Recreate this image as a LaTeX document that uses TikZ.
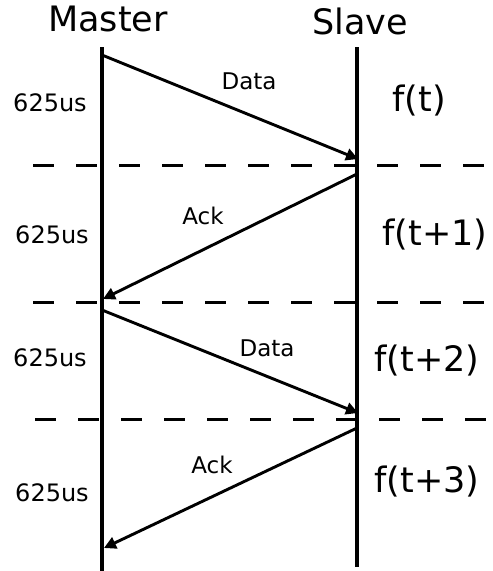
\documentclass[tikz,border=0pt]{standalone}
\usepackage{fontspec}
\setmainfont{DejaVu Sans}
\usepackage{tikz}
\usetikzlibrary{arrows.meta}
\tikzset{
 actor/.style={
 inner sep=0pt,
 font=\fontsize{35}{40}\selectfont
 },
 slot/.style={
 inner sep=0pt,
 font=\fontsize{35}{40}\selectfont
 },
 period/.style={
 inner sep=0pt,
 font=\fontsize{24}{27}\selectfont
 },
 msg/.style={
 inner sep=0pt,
 font=\fontsize{23}{26}\selectfont
 },
 lifeline/.style={line width=3.3pt},
 boundary/.style={line width=3pt, dash pattern=on 21pt off 22pt},
 msgarrow/.style={-{Triangle[length=12pt, width=12pt]}, line width=2.9pt}
}

\begin{document}
\begin{tikzpicture}[x=1pt, y=-1pt]
	\useasboundingbox (0,0) rectangle (493,571);

	\node[actor] (master) at (108,19) {Master};
	\node[actor] (slave) at (360,21) {Slave};

	% lifelines
	\coordinate (mtop) at (102,47);
	\coordinate (mbot) at (102,571);
	\coordinate (stop) at (357,47);
	\coordinate (sbot) at (357,567);
	\draw[lifeline] (mtop) -- (mbot);
	\draw[lifeline] (stop) -- (sbot);

	% slot boundaries
	\coordinate (b1l) at (33,165);
	\coordinate (b1r) at (486,165);
	\coordinate (b2l) at (33,302);
	\coordinate (b2r) at (486,302);
	\coordinate (b3l) at (35,419);
	\coordinate (b3r) at (488,419);
	\draw[boundary] (b1l) -- (b1r);
	\draw[boundary] (b2l) -- (b2r);
	\draw[boundary] (b3l) -- (b3r);

	% message ends
	\coordinate (m1) at (102,55);
	\coordinate (s1) at (358,159);
	\coordinate (s2) at (357,174);
	\coordinate (m2) at (103,299);
	\coordinate (m3) at (102,310);
	\coordinate (s3) at (358,413);
	\coordinate (s4) at (357,428);
	\coordinate (m4) at (104,548);

	\draw[msgarrow] (m1) -- (s1);
	\draw[msgarrow] (s2) -- (m2);
	\draw[msgarrow] (m3) -- (s3);
	\draw[msgarrow] (s4) -- (m4);

	\node[msg] (data1) at (249,81) {Data};
	\node[msg] (ack1) at (203,216) {Ack};
	\node[msg] (data2) at (267,348) {Data};
	\node[msg] (ack2) at (212,465) {Ack};

	\node[period] (p1) at (50,103) {625us};
	\node[period] (p2) at (52,235) {625us};
	\node[period] (p3) at (50,358) {625us};
	\node[period] (p4) at (52,493) {625us};

	\node[slot] (f0) at (419,101) {f(t)};
	\node[slot] (f1) at (435,235) {f(t+1)};
	\node[slot] (f2) at (427,361) {f(t+2)};
	\node[slot] (f3) at (427,482) {f(t+3)};
\end{tikzpicture}
\end{document}
